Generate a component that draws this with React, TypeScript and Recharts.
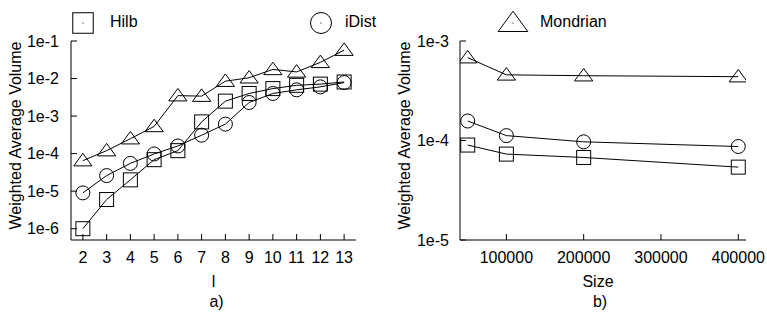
import React from 'react';
import { LineChart, Line, XAxis, YAxis, Legend } from 'recharts';

// ---- data ----
const levels = [2, 3, 4, 5, 6, 7, 8, 9, 10, 11, 12, 13];
const hilbByLevel = [1e-6, 6e-6, 2e-5, 6.9e-5, 1.2e-4, 7.0e-4, 2.5e-3, 4.0e-3, 5.4e-3, 6.6e-3, 7.1e-3, 8.1e-3];
const iDistByLevel = [9e-6, 2.6e-5, 5.5e-5, 9.8e-5, 1.6e-4, 3.1e-4, 6.1e-4, 2.3e-3, 4.0e-3, 5.0e-3, 6.0e-3, 7.8e-3];
const mondrianByLevel = [6.5e-5, 1.2e-4, 2.5e-4, 5.3e-4, 3.5e-3, 3.4e-3, 8.5e-3, 1.05e-2, 1.75e-2, 1.5e-2, 2.7e-2, 5.7e-2];

const sizes = [50000, 100000, 200000, 400000];
const hilbBySize = [9.0e-5, 7.3e-5, 6.75e-5, 5.4e-5];
const iDistBySize = [1.57e-4, 1.12e-4, 9.7e-5, 8.7e-5];
const mondrianBySize = [6.8e-4, 4.57e-4, 4.48e-4, 4.38e-4];

const levelTicks = [2, 3, 4, 5, 6, 7, 8, 9, 10, 11, 12, 13];
const leftYTicks = [1e-6, 1e-5, 1e-4, 1e-3, 1e-2, 1e-1];
const rightYTicks = [1e-5, 1e-4, 1e-3];
const sizeTicks = [100000, 200000, 300000, 400000];

const seriesNames = { hilb: 'Hilb', iDist: 'iDist', mondrian: 'Mondrian' };
const yTitle = 'Weighted Average Volume';
const leftXTitle = 'l';
const leftCaption = 'a)';
const rightXTitle = 'Size';
const rightCaption = 'b)';

const leftData = levels.map((l, i) => ({
  l,
  hilb: hilbByLevel[i],
  iDist: iDistByLevel[i],
  mondrian: mondrianByLevel[i],
}));
const rightData = sizes.map((s, i) => ({
  s,
  hilb: hilbBySize[i],
  iDist: iDistBySize[i],
  mondrian: mondrianBySize[i],
}));

const fmtExp = (v: number) => `1e${Math.round(Math.log10(v))}`;

type Kind = 'square' | 'circle' | 'triangle';

const MarkerShape = ({ cx, cy, kind, s }: { cx: number; cy: number; kind: Kind; s: number }) => {
  if (cx == null || cy == null || isNaN(cx) || isNaN(cy)) return null;
  const common = { fill: 'none', stroke: '#000', strokeWidth: 1 };
  if (kind === 'square') return <rect x={cx - s / 2} y={cy - s / 2} width={s} height={s} {...common} />;
  if (kind === 'circle') return <circle cx={cx} cy={cy} r={s / 2} {...common} />;
  const h = s * 0.78;
  return (
    <polygon
      points={`${cx},${cy - h * 0.58} ${cx - s * 0.57},${cy + h * 0.42} ${cx + s * 0.57},${cy + h * 0.42}`}
      {...common}
    />
  );
};

const dotFor = (kind: Kind, s: number) => (p: any) => (
  <MarkerShape key={`${kind}-${p.index}`} cx={p.cx} cy={p.cy} kind={kind} s={s} />
);

const LegendItem = ({ cx, cy, kind, s, label, tx }: any) => (
  <g>
    <MarkerShape cx={cx} cy={cy} kind={kind} s={s} />
    <rect x={cx - 0.5} y={cy - 0.5} width={1} height={1} fill="#000" />
    <text x={tx} y={27} fontSize={16} fill="#000">
      {label}
    </text>
  </g>
);

const yTitleLabel = (bx: number) => (props: any) => {
  const vb = props.viewBox || { y: 41, height: 199 };
  const cy = vb.y + vb.height / 2 - 5;
  return (
    <text x={bx} y={cy} transform={`rotate(-90 ${bx} ${cy})`} textAnchor="middle" fontSize={16} fill="#000">
      {yTitle}
    </text>
  );
};

const xTitleLabel = (title: string, caption: string, tdx: number, cdx: number) => (props: any) => {
  const vb = props.viewBox || { x: 0, y: 240, width: 285 };
  const cx = vb.x + vb.width / 2;
  return (
    <g>
      <text x={cx + tdx} y={vb.y + 47} textAnchor="middle" fontSize={16} fill="#000">
        {title}
      </text>
      <text x={cx + cdx} y={vb.y + 66.5} textAnchor="middle" fontSize={16} fill="#000">
        {caption}
      </text>
    </g>
  );
};

const tickStyle = { fontSize: 16, fill: '#000' };
const lineStyle = { stroke: '#000', strokeWidth: 1 };

export default function App() {
  return (
    <div
      style={{
        position: 'absolute',
        left: 0,
        top: 0,
        width: 767,
        height: 312,
        background: '#fff',
        fontFamily: '"Liberation Sans", Arial, sans-serif',
      }}
    >
      <div style={{ position: 'absolute', left: 0, top: 0 }}>
        <LineChart width={380} height={312} data={leftData} margin={{ top: 41, right: 24, bottom: 0, left: 0 }}>
          <XAxis
            xAxisId="b"
            dataKey="l"
            type="number"
            domain={[1.5, 13.5]}
            ticks={levelTicks}
            allowDataOverflow
            height={72}
            tickSize={-6}
            tickMargin={18}
            tick={tickStyle}
            axisLine={lineStyle}
            tickLine={lineStyle}
            label={xTitleLabel(leftXTitle, leftCaption, 0, 3)}
          />
          <XAxis
            xAxisId="t"
            orientation="top"
            type="number"
            domain={[1.5, 13.5]}
            ticks={levelTicks}
            allowDataOverflow
            height={0}
            tickSize={-6}
            tickFormatter={() => ''}
            axisLine={lineStyle}
            tickLine={lineStyle}
          />
          <YAxis
            yAxisId="l"
            type="number"
            scale="log"
            domain={[5e-7, 0.1]}
            ticks={leftYTicks}
            allowDataOverflow
            width={71}
            tickSize={-6}
            tickMargin={18}
            tick={tickStyle}
            tickFormatter={fmtExp}
            axisLine={lineStyle}
            tickLine={lineStyle}
            label={yTitleLabel(21)}
          />
          <YAxis
            yAxisId="r"
            orientation="right"
            type="number"
            scale="log"
            domain={[5e-7, 0.1]}
            ticks={leftYTicks}
            allowDataOverflow
            width={0}
            tickSize={-6}
            tickFormatter={() => ''}
            axisLine={lineStyle}
            tickLine={lineStyle}
          />
          <Legend
            layout="horizontal"
            verticalAlign="middle"
            align="center"
            wrapperStyle={{ position: 'absolute', left: 0, top: 0, width: 400, height: 40 }}
            content={() => (
              <svg width={400} height={40} style={{ overflow: 'visible', display: 'block' }}>
                <LegendItem cx={83} cy={23} kind="square" s={20.5} label={seriesNames.hilb} tx={110} />
                <LegendItem cx={321} cy={23} kind="circle" s={21} label={seriesNames.iDist} tx={345} />
              </svg>
            )}
          />
          <Line xAxisId="b" yAxisId="l" dataKey="hilb" name={seriesNames.hilb} stroke="#000" strokeWidth={1} dot={dotFor('square', 14)} isAnimationActive={false} />
          <Line xAxisId="b" yAxisId="l" dataKey="iDist" name={seriesNames.iDist} stroke="#000" strokeWidth={1} dot={dotFor('circle', 14)} isAnimationActive={false} />
          <Line xAxisId="b" yAxisId="l" dataKey="mondrian" name={seriesNames.mondrian} stroke="#000" strokeWidth={1} dot={dotFor('triangle', 16)} isAnimationActive={false} />
        </LineChart>
      </div>
      <div style={{ position: 'absolute', left: 380, top: 0 }}>
        <LineChart width={387} height={312} data={rightData} margin={{ top: 41, right: 21, bottom: 0, left: 0 }}>
          <XAxis
            xAxisId="b"
            dataKey="s"
            type="number"
            domain={[40000, 410000]}
            ticks={sizeTicks}
            allowDataOverflow
            height={72}
            tickSize={-6}
            tickMargin={18}
            tick={tickStyle}
            axisLine={lineStyle}
            tickLine={lineStyle}
            label={xTitleLabel(rightXTitle, rightCaption, -5, -3)}
          />
          <XAxis
            xAxisId="t"
            orientation="top"
            type="number"
            domain={[40000, 410000]}
            ticks={sizeTicks}
            allowDataOverflow
            height={0}
            tickSize={-6}
            tickFormatter={() => ''}
            axisLine={lineStyle}
            tickLine={lineStyle}
          />
          <YAxis
            yAxisId="l"
            type="number"
            scale="log"
            domain={[1e-5, 1e-3]}
            ticks={rightYTicks}
            allowDataOverflow
            width={80}
            tickSize={-6}
            tickMargin={17}
            tick={tickStyle}
            tickFormatter={fmtExp}
            axisLine={lineStyle}
            tickLine={lineStyle}
            label={yTitleLabel(29.5)}
          />
          <YAxis
            yAxisId="r"
            orientation="right"
            type="number"
            scale="log"
            domain={[1e-5, 1e-3]}
            ticks={rightYTicks}
            allowDataOverflow
            width={0}
            tickSize={-6}
            tickFormatter={() => ''}
            axisLine={lineStyle}
            tickLine={lineStyle}
          />
          <Legend
            layout="horizontal"
            verticalAlign="middle"
            align="center"
            wrapperStyle={{ position: 'absolute', left: 0, top: 0, width: 387, height: 40 }}
            content={() => (
              <svg width={387} height={40} style={{ overflow: 'visible', display: 'block' }}>
                <LegendItem cx={133} cy={23} kind="triangle" s={26} label={seriesNames.mondrian} tx={160} />
              </svg>
            )}
          />
          <Line xAxisId="b" yAxisId="l" dataKey="hilb" name={seriesNames.hilb} stroke="#000" strokeWidth={1} dot={dotFor('square', 14)} isAnimationActive={false} />
          <Line xAxisId="b" yAxisId="l" dataKey="iDist" name={seriesNames.iDist} stroke="#000" strokeWidth={1} dot={dotFor('circle', 14)} isAnimationActive={false} />
          <Line xAxisId="b" yAxisId="l" dataKey="mondrian" name={seriesNames.mondrian} stroke="#000" strokeWidth={1} dot={dotFor('triangle', 16)} isAnimationActive={false} />
        </LineChart>
      </div>
    </div>
  );
}
